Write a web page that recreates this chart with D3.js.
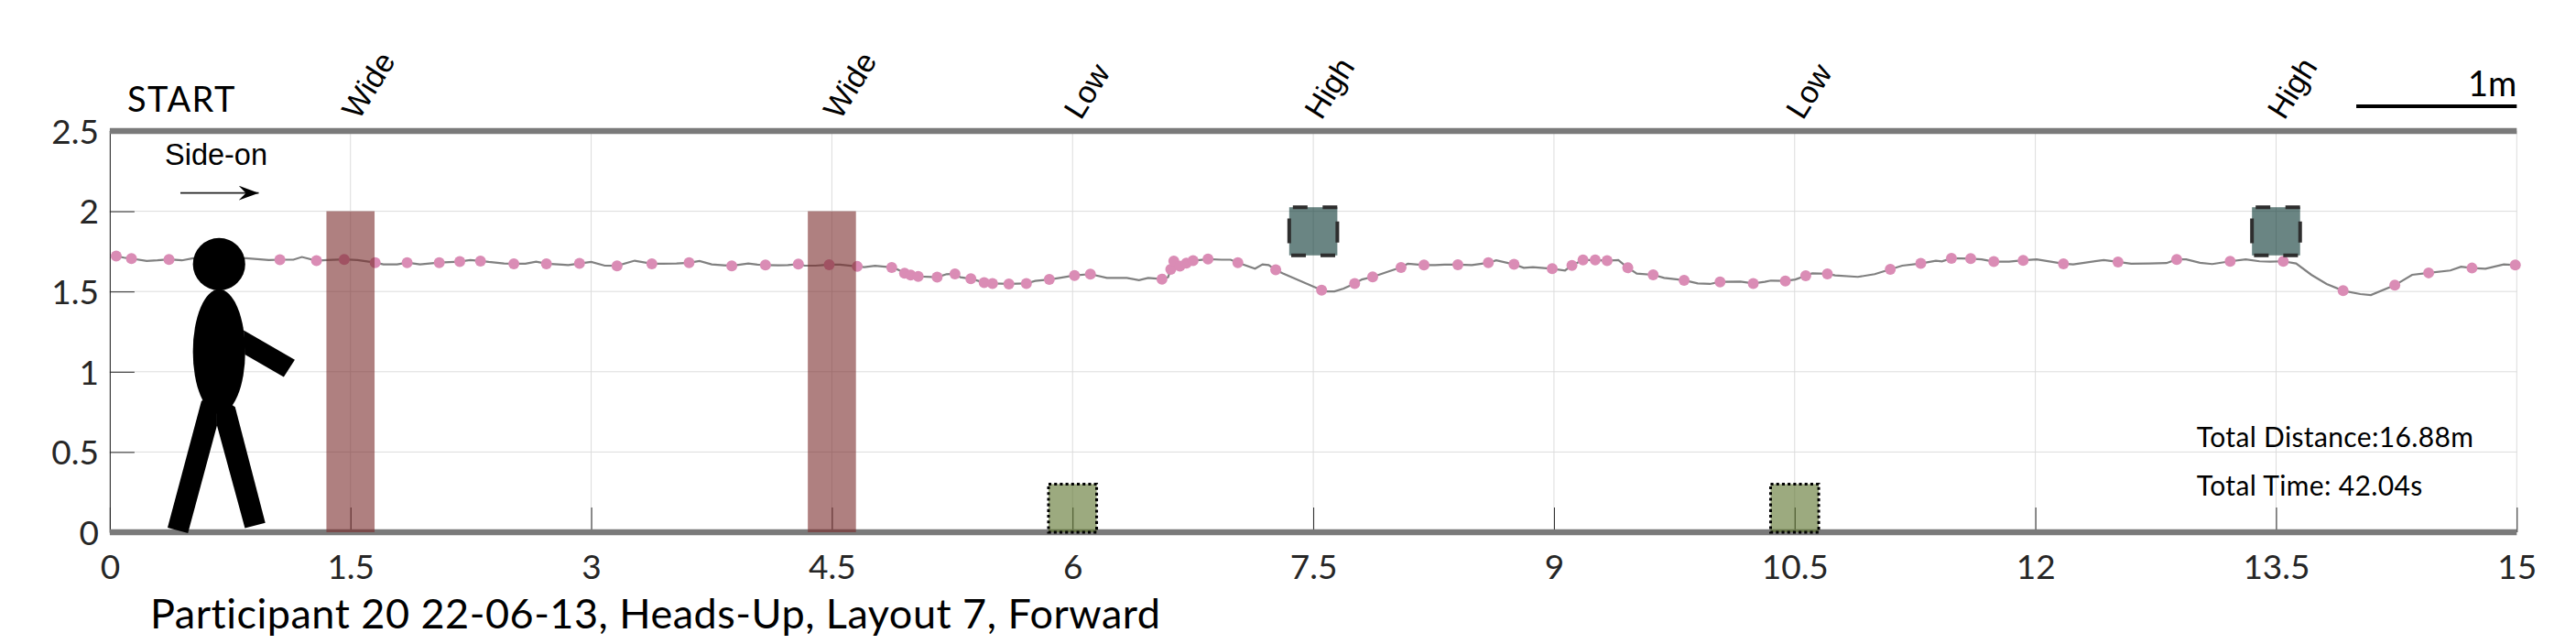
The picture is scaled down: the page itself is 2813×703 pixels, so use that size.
<!DOCTYPE html>
<html>
<head>
<meta charset="utf-8">
<script src="https://cdnjs.cloudflare.com/ajax/libs/d3/7.8.5/d3.min.js"></script>
<style>
	html, body {margin:0; padding:0; background:#ffffff;}
	svg {display:block; position:absolute; left:0; top:0;}
	text {font-family:Lato, sans-serif;}
</style>
</head>
<body>
<svg id="chart" width="2813" height="703"></svg>
<script>
var xTicks = [0, 1.5, 3, 4.5, 6, 7.5, 9, 10.5, 12, 13.5, 15];
var yTicks = [0, 0.5, 1, 1.5, 2, 2.5];

//obstacle labels along the top
var obstacleNames = ["Wide", "Wide", "Low", "High", "Low", "High"];
var obstacleCentres = [1.5, 4.5, 6, 7.5, 10.5, 13.5];
var obstacleKinds = ["wide", "wide", "low", "high", "low", "high"];
var obstacleBottoms = [0, 0, 0, 1.725, 0, 1.725];
var obstacleTops = [2, 2, 0.3, 2.025, 0.3, 2.025];
var obstacleWidth = 0.3;

//footfall markers
var stepX = [0.040,0.135,0.369,1.060,1.288,1.461,1.654,1.853,2.053,2.181,2.310,2.518,2.721,2.927,3.161,3.378,3.610,3.876,4.086,4.291,4.483,4.658,4.873,4.953,4.991,5.038,5.156,5.267,5.366,5.449,5.501,5.603,5.712,5.855,6.012,6.111,6.557,6.612,6.631,6.669,6.709,6.751,6.844,7.030,7.266,7.552,7.758,7.870,8.047,8.190,8.401,8.591,8.751,8.989,9.112,9.181,9.257,9.331,9.460,9.618,9.811,10.035,10.242,10.442,10.569,10.704,11.096,11.286,11.477,11.597,11.741,11.924,12.175,12.515,12.881,13.214,13.545,13.918,14.240,14.451,14.721,14.991];
var stepY = [1.721,1.705,1.700,1.698,1.692,1.700,1.680,1.680,1.680,1.686,1.690,1.673,1.673,1.675,1.660,1.673,1.679,1.660,1.665,1.671,1.667,1.656,1.650,1.614,1.602,1.594,1.589,1.610,1.579,1.556,1.550,1.547,1.550,1.575,1.600,1.608,1.577,1.638,1.690,1.658,1.677,1.692,1.702,1.680,1.635,1.508,1.549,1.591,1.650,1.665,1.667,1.679,1.669,1.642,1.663,1.696,1.696,1.692,1.648,1.604,1.570,1.560,1.550,1.566,1.598,1.610,1.638,1.675,1.707,1.705,1.686,1.694,1.673,1.684,1.700,1.688,1.688,1.505,1.539,1.616,1.646,1.665];

//path points between the footfalls
var pathX = [0.010,0.088,0.230,0.297,0.449,0.520,0.687,0.849,0.991,1.144,1.197,1.353,1.543,1.705,1.791,1.933,2.247,2.361,2.457,2.590,2.657,2.818,2.857,3.000,3.085,3.271,3.446,3.532,3.675,3.751,3.827,3.979,4.036,4.169,4.226,4.331,4.398,4.550,4.702,4.769,4.911,5.215,5.301,5.767,5.919,6.214,6.338,6.414,6.471,6.595,6.928,6.985,7.137,7.184,7.222,7.308,7.584,7.632,7.689,7.803,7.975,8.089,8.260,8.317,8.488,8.640,8.812,8.869,9.069,9.401,9.516,9.687,9.896,9.972,10.162,10.314,10.352,10.504,10.609,10.752,10.894,10.999,11.170,11.380,11.418,11.665,11.836,12.008,12.236,12.426,12.597,12.711,12.817,12.940,13.026,13.102,13.311,13.397,13.464,13.625,13.720,13.815,14.025,14.091,14.348,14.586,14.653,14.805,14.919];
var pathY = [1.722,1.711,1.690,1.694,1.694,1.707,1.707,1.707,1.696,1.698,1.715,1.696,1.696,1.669,1.669,1.669,1.696,1.684,1.675,1.673,1.686,1.667,1.665,1.684,1.661,1.692,1.673,1.675,1.690,1.669,1.663,1.675,1.667,1.663,1.665,1.661,1.661,1.667,1.652,1.660,1.636,1.608,1.589,1.566,1.585,1.585,1.585,1.571,1.585,1.589,1.698,1.698,1.642,1.669,1.665,1.614,1.501,1.501,1.518,1.575,1.627,1.673,1.665,1.667,1.665,1.694,1.648,1.652,1.631,1.696,1.612,1.585,1.550,1.547,1.562,1.560,1.568,1.575,1.613,1.600,1.591,1.608,1.661,1.692,1.688,1.700,1.686,1.700,1.669,1.696,1.673,1.675,1.677,1.700,1.679,1.671,1.700,1.688,1.686,1.675,1.604,1.547,1.484,1.478,1.604,1.631,1.654,1.642,1.669];

//walking figure
var headCentre = [0.681, 1.670];
var headRadius = 0.163;
var bodyCentre = [0.681, 1.125];
var bodyRadii = [0.163, 0.389];
var armShape = [[0.834,1.258],[1.153,1.074],[1.084,0.967],[0.842,1.107]];
var legLeftShape = [[0.571,0.818],[0.360,0.028],[0.487,-0.005],[0.668,0.665],[0.668,0.857]];
var legRightShape = [[0.781,0.780],[0.969,0.059],[0.842,0.026],[0.668,0.665],[0.668,0.857]];

var titleText = "Participant 20 22-06-13, Heads-Up, Layout 7, Forward";
var statLines = ["Total Distance:16.88m", "Total Time: 42.04s"];

var svg = d3.select("#chart");

var x = d3.scaleLinear().domain([0, 15]).range([119.9, 2748.3]);
var y = d3.scaleLinear().domain([0, 2.5]).range([581, 143]);

//grid lines
var grid = svg.append("g");
grid.selectAll("line.v").data(xTicks).enter().append("line").classed("v", true)
	.attr("x1", function(d){return x(d)}).attr("x2", function(d){return x(d)})
	.attr("y1", y(2.5)).attr("y2", y(0))
	.attr("stroke", "#dcdcdc").attr("stroke-width", 1);
grid.selectAll("line.h").data(yTicks).enter().append("line").classed("h", true)
	.attr("x1", x(0)).attr("x2", x(15))
	.attr("y1", function(d){return y(d)}).attr("y2", function(d){return y(d)})
	.attr("stroke", "#dcdcdc").attr("stroke-width", 1);

//axes, ticks point inwards
var xAxis = d3.axisBottom(x).tickValues(xTicks).tickSize(-27).tickPadding(0).tickFormat(function(d){return String(d)});
var yAxis = d3.axisLeft(y).tickValues(yTicks).tickSize(-27).tickPadding(0).tickFormat(function(d){return String(d)});

var xg = svg.append("g").attr("transform", "translate(0," + y(0) + ")").call(xAxis);
var yg = svg.append("g").attr("transform", "translate(" + x(0) + ",0)").call(yAxis);

xg.select(".domain").remove();
yg.select(".domain").attr("stroke", "#262626").attr("stroke-width", 1);
xg.selectAll(".tick line").attr("stroke", "#262626");
yg.selectAll(".tick line").attr("stroke", "#262626");
xg.selectAll(".tick text").attr("y", 51).attr("dy", 0).attr("fill", "#262626").style("font-size", "37px").style("font-family", "Lato");
yg.selectAll(".tick text").attr("x", -12).attr("dy", "0.36em").attr("fill", "#262626").style("font-size", "37px").style("font-family", "Lato");

//trajectory
var pathData = d3.range(pathX.length).map(function(i){return [pathX[i], pathY[i]]})
	.concat(d3.range(stepX.length).map(function(i){return [stepX[i], stepY[i]]}))
	.sort(function(a,b){return d3.ascending(a[0], b[0])});

var line = d3.line().x(function(d){return x(d[0])}).y(function(d){return y(d[1])});

svg.append("path").datum(pathData).attr("d", line)
	.attr("fill", "none").attr("stroke", "#808080").attr("stroke-width", 2.2);

svg.selectAll("circle.step").data(stepX).enter().append("circle").classed("step", true)
	.attr("cx", function(d){return x(d)})
	.attr("cy", function(d,i){return y(stepY[i])})
	.attr("r", 6)
	.attr("fill", "#da8cb5");

//thick top and bottom bars
svg.selectAll("line.bar").data([0, 2.5]).enter().append("line").classed("bar", true)
	.attr("x1", x(0)).attr("x2", x(15))
	.attr("y1", function(d){return y(d)}).attr("y2", function(d){return y(d)})
	.attr("stroke", "#7a7a7a").attr("stroke-width", 6.3);

//obstacles
var fills = {wide:"#7a2b2b", low:"#5a712a", high:"#073430"};
svg.selectAll("rect.obstacle").data(obstacleCentres).enter().append("rect").classed("obstacle", true)
	.attr("x", function(d){return x(d - obstacleWidth/2)})
	.attr("width", function(d){return x(d + obstacleWidth/2) - x(d - obstacleWidth/2)})
	.attr("y", function(d,i){return y(obstacleTops[i])})
	.attr("height", function(d,i){return y(obstacleBottoms[i]) - y(obstacleTops[i])})
	.attr("fill", function(d,i){return fills[obstacleKinds[i]]})
	.attr("fill-opacity", 0.6);

svg.selectAll("rect.outline").data(obstacleCentres.filter(function(d,i){return obstacleKinds[i] != "wide"})).enter().append("rect").classed("outline", true)
	.attr("x", function(d){return x(d - obstacleWidth/2)})
	.attr("width", function(d){return x(d + obstacleWidth/2) - x(d - obstacleWidth/2)})
	.attr("y", function(d){return y(obstacleTops[obstacleCentres.indexOf(d)])})
	.attr("height", function(d){var i = obstacleCentres.indexOf(d); return y(obstacleBottoms[i]) - y(obstacleTops[i])})
	.attr("fill", "none")
	.attr("stroke", function(d){return obstacleKinds[obstacleCentres.indexOf(d)] == "low" ? "#000000" : "#2e2e2e"})
	.attr("stroke-width", function(d){return obstacleKinds[obstacleCentres.indexOf(d)] == "low" ? 3 : 4})
	.attr("stroke-dasharray", function(d){
		return obstacleKinds[obstacleCentres.indexOf(d)] == "low" ? "3.1,3.1" : "0,4,16,16.5,16,15.5,23,16.5,16,16,16,15.5,27,10.5";
	});

//obstacle labels
svg.selectAll("text.top-label").data(obstacleNames).enter().append("text").classed("top-label", true)
	.attr("transform", function(d,i){return "translate(" + (x(obstacleCentres[i]) + 9) + ",132) rotate(-58)"})
	.style("font-family", '"Liberation Sans"')
	.style("font-size", "34px")
	.text(function(d){return d});

//walking figure
var figure = svg.append("g").attr("fill", "#000000");
figure.append("circle").attr("cx", x(headCentre[0])).attr("cy", y(headCentre[1])).attr("r", x(headRadius) - x(0));
figure.append("ellipse").attr("cx", x(bodyCentre[0])).attr("cy", y(bodyCentre[1]))
	.attr("rx", x(bodyRadii[0]) - x(0)).attr("ry", y(0) - y(bodyRadii[1]));
figure.selectAll("polygon").data([armShape, legLeftShape, legRightShape]).enter().append("polygon")
	.attr("points", function(d){return d.map(function(p){return x(p[0]) + "," + y(p[1])}).join(" ")});

//direction arrow
var marker = svg.append("defs").append("marker").attr("id", "arrowhead")
	.attr("viewBox", "0 0 22 16").attr("refX", 22).attr("refY", 8)
	.attr("markerWidth", 22).attr("markerHeight", 16).attr("markerUnits", "userSpaceOnUse").attr("orient", "auto");
marker.append("path").attr("d", "M0,0L22,8L0,16L8,8Z").attr("fill", "#000000");

svg.append("line").attr("x1", x(0.44)).attr("x2", x(0.928)).attr("y1", y(2.114)).attr("y2", y(2.114))
	.attr("stroke", "#222222").attr("stroke-width", 1.6).attr("marker-end", "url(#arrowhead)");

svg.append("text").attr("x", 180).attr("y", 180).style("font-family", '"Liberation Sans"').style("font-size", "32.5px").text("Side-on");

svg.append("text").attr("x", 139).attr("y", 122).style("font-size", "38px").style("letter-spacing", "1.5px").text("START");

//scale bar is one metre long
svg.append("line").attr("x1", x(14)).attr("x2", x(15)).attr("y1", 116.1).attr("y2", 116.1)
	.attr("stroke", "#000000").attr("stroke-width", 4);
svg.append("text").attr("x", x(15)).attr("y", 105).attr("text-anchor", "end").style("font-size", "38px").text("1m");

svg.selectAll("text.stat").data(statLines).enter().append("text").classed("stat", true)
	.attr("x", 2398.8)
	.attr("y", function(d,i){return i == 0 ? 488 : 541})
	.style("font-size", "30px")
	.style("letter-spacing", "0.35px")
	.text(function(d){return d});

svg.append("text").attr("x", 164).attr("y", 686).style("font-size", "45px").style("letter-spacing", "0.5px").text(titleText);
</script>
</body>
</html>
